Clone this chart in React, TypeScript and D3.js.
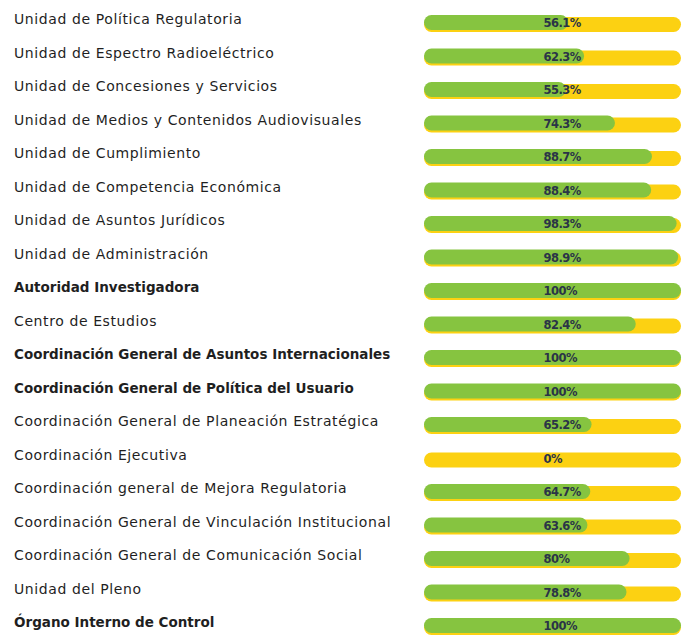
import React from "react";
import * as d3 from "d3";

const categories: string[] = [
  "Unidad de Política Regulatoria",
  "Unidad de Espectro Radioeléctrico",
  "Unidad de Concesiones y Servicios",
  "Unidad de Medios y Contenidos Audiovisuales",
  "Unidad de Cumplimiento",
  "Unidad de Competencia Económica",
  "Unidad de Asuntos Jurídicos",
  "Unidad de Administración",
  "Autoridad Investigadora",
  "Centro de Estudios",
  "Coordinación General de Asuntos Internacionales",
  "Coordinación General de Política del Usuario",
  "Coordinación General de Planeación Estratégica",
  "Coordinación Ejecutiva",
  "Coordinación general de Mejora Regulatoria",
  "Coordinación General de Vinculación Institucional",
  "Coordinación General de Comunicación Social",
  "Unidad del Pleno",
  "Órgano Interno de Control",
];

const values: number[] = [
  56.1, 62.3, 55.3, 74.3, 88.7, 88.4, 98.3, 98.9, 100, 82.4, 100, 100, 65.2, 0,
  64.7, 63.6, 80, 78.8, 100,
];

const valueLabels: string[] = [
  "56.1%", "62.3%", "55.3%", "74.3%", "88.7%", "88.4%", "98.3%", "98.9%", "100%",
  "82.4%", "100%", "100%", "65.2%", "0%", "64.7%", "63.6%", "80%", "78.8%", "100%",
];

const W = 684;
const H = 637;
const GREEN = "#86c440";
const YELLOW = "#fcd112";

export default function App() {
  const y = d3
    .scaleBand<string>()
    .domain(categories)
    .range([5.75, 642.25])
    .paddingInner(0)
    .paddingOuter(0);
  const x = d3.scaleLinear().domain([0, 100]).range([424, 681]);
  const barH = 15;
  const bw = y.bandwidth();

  return (
    <svg
      width={W}
      height={H}
      style={{ position: "absolute", left: 0, top: 0, background: "#ffffff" }}
    >
      {categories.map((c, i) => {
        const cy = (y(c) as number) + bw / 2;
        const v = values[i];
        const gw = x(v) - x(0);
        const bold = v === 100;
        return (
          <g key={c}>
            <text
              x={14}
              y={cy - 3.5}
              dominantBaseline="central"
              fontFamily="'DejaVu Sans', sans-serif"
              fontSize={bold ? 13.5 : 14}
              fontWeight={bold ? 700 : 400}
              letterSpacing={bold ? 0 : 0.6}
              fill="#1f1f1f"
            >
              {c}
            </text>
            <rect
              x={x(0)}
              y={cy - barH / 2 + 2}
              width={x(100) - x(0)}
              height={barH}
              rx={barH / 2}
              fill={YELLOW}
            />
            {gw > 0 && (
              <rect
                x={x(0)}
                y={cy - barH / 2}
                width={gw}
                height={barH}
                rx={barH / 2}
                fill={GREEN}
              />
            )}
            <text
              x={x(46.5)}
              y={cy + 0.5}
              dominantBaseline="central"
              fontFamily="'DejaVu Sans', sans-serif"
              fontSize={11.5}
              fontWeight={700}
              letterSpacing={-0.5}
              fill="#2a3447"
            >
              {valueLabels[i]}
            </text>
          </g>
        );
      })}
    </svg>
  );
}
